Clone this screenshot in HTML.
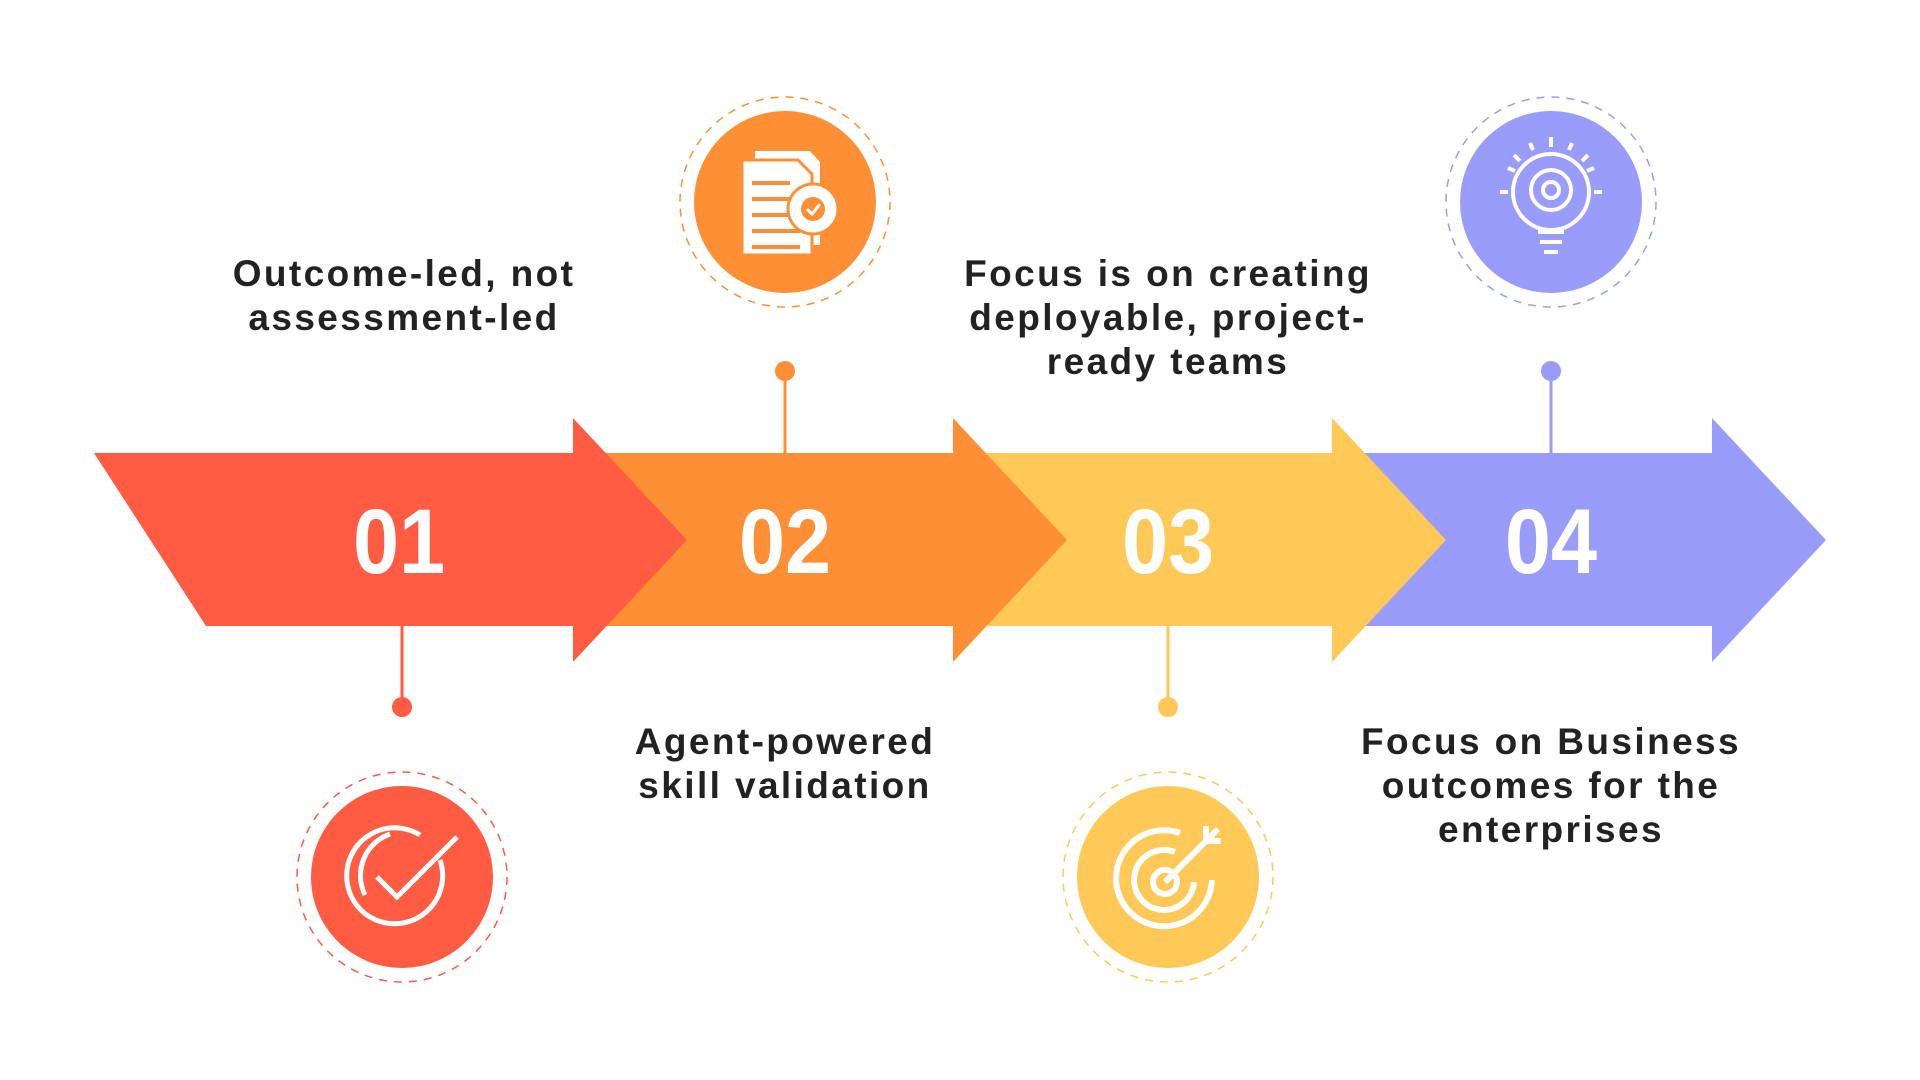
<!DOCTYPE html>
<html><head><meta charset="utf-8"><style>
html,body{margin:0;padding:0;background:#fff;}
body{width:1920px;height:1080px;position:relative;overflow:hidden;font-family:"Liberation Sans",sans-serif;}
.t{position:absolute;transform:translateX(-50%);text-align:center;font-weight:bold;font-size:37px;line-height:44px;color:#222;white-space:nowrap;letter-spacing:2.4px;}
</style></head><body>
<svg width="1920" height="1080" style="position:absolute;left:0;top:0">
<polygon points="1332,453 1712,453 1712,418 1826,540 1712,662 1712,626 1332,626" fill="#9A9CFC"/>
<polygon points="953,453 1332,453 1332,418 1446,540 1332,662 1332,626 953,626" fill="#FFC857"/>
<polygon points="573,453 953,453 953,418 1067,540 953,662 953,626 573,626" fill="#FF8F35"/>
<polygon points="94,453 573,453 573,418 687,540 573,662 573,626 206,626" fill="#FF5C43"/>
<g font-family="Liberation Sans,sans-serif" font-weight="bold" font-size="92" fill="#fff" text-anchor="middle">
<text x="399" y="573" transform="translate(399 0) scale(0.9 1) translate(-399 0)">01</text>
<text x="785" y="573" transform="translate(785 0) scale(0.9 1) translate(-785 0)">02</text>
<text x="1168" y="573" transform="translate(1168 0) scale(0.9 1) translate(-1168 0)">03</text>
<text x="1551" y="573" transform="translate(1551 0) scale(0.9 1) translate(-1551 0)">04</text>
</g>
<line x1="785" y1="371" x2="785" y2="453" stroke="#FF8F35" stroke-width="3"/><circle cx="785" cy="371" r="10" fill="#FF8F35"/>
<line x1="1551" y1="371" x2="1551" y2="453" stroke="#9A9CFC" stroke-width="3"/><circle cx="1551" cy="371" r="10" fill="#9A9CFC"/>
<line x1="402" y1="626" x2="402" y2="707" stroke="#FF5C43" stroke-width="3"/><circle cx="402" cy="707" r="10" fill="#FF5C43"/>
<line x1="1168" y1="626" x2="1168" y2="707" stroke="#FFC857" stroke-width="3"/><circle cx="1168" cy="707" r="10" fill="#FFC857"/>
<g fill="none" stroke-width="1.5" stroke-dasharray="8 7">
<circle cx="785" cy="202" r="105" stroke="#FF8F35"/>
<circle cx="1551" cy="202" r="105" stroke="#9A9CFC"/>
<circle cx="402" cy="877" r="105" stroke="#FF5C43"/>
<circle cx="1168" cy="877" r="105" stroke="#FFC857"/>
</g>
<circle cx="785" cy="202" r="91" fill="#FF8F35"/>
<circle cx="1551" cy="202" r="91" fill="#9A9CFC"/>
<circle cx="402" cy="877" r="91" fill="#FF5C43"/>
<circle cx="1168" cy="877" r="91" fill="#FFC857"/>
<g fill="#fff">
<polygon points="755,151 810,151 820,162 820,245 755,245"/>
<polygon points="742,160 798,160 812,174 812,255 742,255" stroke="#FF8F35" stroke-width="3"/>
<g stroke="#FF8F35" stroke-width="4"><line x1="752" y1="183" x2="790" y2="183"/><line x1="752" y1="199" x2="800" y2="199"/><line x1="752" y1="215" x2="800" y2="215"/><line x1="752" y1="231" x2="800" y2="231"/><line x1="752" y1="247" x2="800" y2="247"/></g>
<circle cx="813" cy="209" r="25" stroke="#FF8F35" stroke-width="3"/>
<circle cx="813" cy="209" r="12" fill="#FF8F35"/>
<polyline points="807,209 812,214 820,204" fill="none" stroke="#fff" stroke-width="3"/>
</g>
<g stroke="#fff" stroke-width="4" fill="none">
<circle cx="1551" cy="192" r="38"/>
<circle cx="1551" cy="190" r="20"/><circle cx="1551" cy="190" r="8"/>
<line x1="1538" y1="232" x2="1564" y2="232"/><line x1="1540" y1="242" x2="1562" y2="242"/><line x1="1544" y1="252" x2="1558" y2="252"/>
<line x1="1551" y1="137" x2="1551" y2="147"/><line x1="1500" y1="192" x2="1508" y2="192"/><line x1="1594" y1="192" x2="1602" y2="192"/>
<line x1="1514" y1="155" x2="1520" y2="161"/><line x1="1588" y1="155" x2="1582" y2="161"/>
<line x1="1508" y1="168" x2="1515" y2="171"/><line x1="1594" y1="168" x2="1587" y2="171"/>
<line x1="1530" y1="143" x2="1533" y2="150"/><line x1="1572" y1="143" x2="1569" y2="150"/>
</g>
<g stroke="#fff" stroke-width="5" fill="none">
<path d="M440,860 A48,48 0 1 1 420,835"/>
<path d="M365,895 A44,44 0 0 1 390,834"/>
<polyline points="377,877 397,897 457,837"/>
</g>
<g stroke="#fff" stroke-width="6" fill="none">
<path d="M1212,880 A48,48 0 1 1 1180,833"/>
<path d="M1194,882 A30,30 0 1 1 1175,852"/>
<circle cx="1165" cy="882" r="12"/>
<line x1="1165" y1="882" x2="1218" y2="829"/>
<polyline points="1206,826 1206,841 1221,841"/>
</g>
</svg>
<div class="t" style="left:404px;top:252px">Outcome-led, not<br>assessment-led</div>
<div class="t" style="left:1168px;top:252px">Focus is on creating<br>deployable, project-<br>ready teams</div>
<div class="t" style="left:785px;top:720px">Agent-powered<br>skill validation</div>
<div class="t" style="left:1551px;top:720px">Focus on Business<br>outcomes for the<br>enterprises</div>
</body></html>
